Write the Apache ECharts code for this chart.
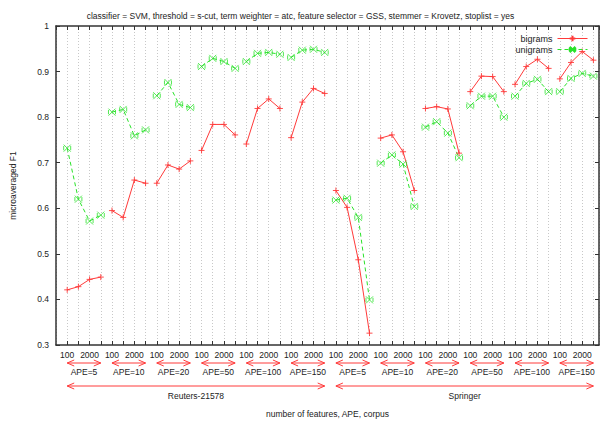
<!DOCTYPE html>
<html>
<head>
<meta charset="utf-8">
<script src="https://cdn.jsdelivr.net/npm/echarts@6/dist/echarts.min.js"></script>
<style>html,body{margin:0;padding:0;background:#fff;}#c{width:601px;height:423px;}</style>
</head>
<body>
<div id="c"></div>
<script>
// ---- data ----
const titleText = 'classifier = SVM, threshold = s-cut, term weighter = atc, feature selector = GSS, stemmer = Krovetz, stoplist = yes';
const tickLabels = ['100', '', '2000', ''];            // labels for the 4 feature counts of each group
const apeLevels = ['APE=5', 'APE=10', 'APE=20', 'APE=50', 'APE=100', 'APE=150'];
const corpora = ['Reuters-21578', 'Springer'];
const yTicks = [0.3, 0.4, 0.5, 0.6, 0.7, 0.8, 0.9, 1];

const bigrams = [
  // Reuters-21578
  0.421, 0.428, 0.444, 0.449,
  0.595, 0.580, 0.662, 0.655,
  0.655, 0.695, 0.686, 0.704,
  0.727, 0.784, 0.784, 0.761,
  0.741, 0.819, 0.840, 0.819,
  0.755, 0.833, 0.863, 0.852,
  // Springer
  0.639, 0.602, 0.487, 0.326,
  0.754, 0.761, 0.724, 0.639,
  0.819, 0.823, 0.818, 0.721,
  0.856, 0.890, 0.889, 0.856,
  0.872, 0.911, 0.927, 0.907,
  0.884, 0.920, 0.944, 0.925
];
const unigrams = [
  // Reuters-21578
  0.732, 0.620, 0.572, 0.585,
  0.811, 0.817, 0.759, 0.772,
  0.847, 0.876, 0.828, 0.821,
  0.911, 0.929, 0.922, 0.907,
  0.922, 0.940, 0.942, 0.938,
  0.931, 0.947, 0.949, 0.942,
  // Springer
  0.618, 0.622, 0.580, 0.399,
  0.699, 0.717, 0.697, 0.604,
  0.778, 0.790, 0.765, 0.711,
  0.825, 0.846, 0.846, 0.800,
  0.846, 0.874, 0.883, 0.856,
  0.856, 0.885, 0.896, 0.890
];

// ---- build ----
function toSeriesData(vals) {
  const out = [];
  vals.forEach((v, i) => {
    out.push([i + 1, v]);
    if (i % 4 === 3 && i < vals.length - 1) out.push([i + 1.5, '-']);
  });
  return out;
}
const nPts = bigrams.length;
const spanLabels = [];
const spans = [];
for (let g = 0; g < nPts / 4; g++) {
  spans.push([4 * g + 1, 4 * g + 4, 0, spanLabels.length]);
  spanLabels.push(apeLevels[g % apeLevels.length]);
}
const perCorpus = nPts / corpora.length;
corpora.forEach((c, k) => {
  spans.push([k * perCorpus + 1, (k + 1) * perCorpus, 1, spanLabels.length]);
  spanLabels.push(c);
});

const RED = '#ff3a3a';
const GREEN = '#2ae22a';
const FONT = 'Liberation Sans';
const txt = '#222';

const chart = echarts.init(document.getElementById('c'), null, {renderer: 'svg'});
const xMin = 0, xMax = nPts + 0.5;
chart.setOption({
  animation: false,
  backgroundColor: '#fff',
  textStyle: {fontFamily: FONT},
  title: {
    text: titleText, left: 'center', top: 6,
    textStyle: {fontSize: 8.5, fontWeight: 'normal', color: txt, fontFamily: FONT}
  },
  legend: {
    orient: 'vertical', right: 8, top: 29, align: 'right',
    itemWidth: 30, itemHeight: 7, itemGap: 2,
    lineStyle: {width: 1},
    textStyle: {fontSize: 9, color: txt, fontFamily: FONT},
    data: ['bigrams', 'unigrams']
  },
  grid: {left: 51, right: 2, top: 26, bottom: 78, containLabel: false},
  xAxis: [{
    type: 'value', min: xMin, max: xMax, interval: 1,
    name: 'number of features, APE, corpus', nameLocation: 'middle', nameGap: 64,
    nameTextStyle: {fontSize: 8.5, color: txt, fontFamily: FONT},
    axisLine: {show: true, onZero: false, lineStyle: {color: '#333', width: 1.5}},
    axisTick: {show: true, inside: true, length: 4, lineStyle: {color: '#333'}},
    axisLabel: {
      fontSize: 8.5, color: txt, margin: 5, fontFamily: FONT, showMaxLabel: false, showMinLabel: false,
      formatter: v => (Number.isInteger(v) && v >= 1 && v <= nPts) ? tickLabels[(v - 1) % 4] : ''
    },
    splitLine: {show: true, lineStyle: {type: [1, 2], color: '#c8c8c8', width: 1}}
  }, {
    type: 'value', position: 'top', min: xMin, max: xMax, interval: 1,
    axisLine: {show: true, onZero: false, lineStyle: {color: '#333', width: 1.5}},
    axisTick: {show: true, inside: true, length: 4, lineStyle: {color: '#333'}},
    axisLabel: {show: false}, splitLine: {show: false}
  }],
  yAxis: [{
    type: 'value', min: 0.3, max: 1, interval: 0.1,
    name: 'microaveraged F1', nameLocation: 'middle', nameGap: 39,
    nameTextStyle: {fontSize: 8.5, color: txt, fontFamily: FONT},
    axisLine: {show: true, onZero: false, lineStyle: {color: '#333', width: 1.5}},
    axisTick: {show: true, inside: true, length: 4, lineStyle: {color: '#333'}},
    axisLabel: {fontSize: 8.5, color: txt, margin: 7, fontFamily: FONT,
      formatter: v => String(+v.toFixed(1))},
    splitLine: {show: false}
  }, {
    type: 'value', position: 'right', min: 0.3, max: 1, interval: 0.1,
    axisLine: {show: true, onZero: false, lineStyle: {color: '#333', width: 1.5}},
    axisTick: {show: true, inside: true, length: 4, lineStyle: {color: '#333'}},
    axisLabel: {show: false}, splitLine: {show: false}
  }],
  series: [{
    name: 'bigrams', type: 'line', data: toSeriesData(bigrams),
    connectNulls: false, showSymbol: true,
    symbol: 'path://M0,5L10,5M5,0L5,10', symbolSize: 6,
    lineStyle: {color: RED, width: 1},
    itemStyle: {color: RED, borderColor: RED, borderWidth: 0.9}
  }, {
    name: 'unigrams', type: 'line', data: toSeriesData(unigrams),
    connectNulls: false, showSymbol: true,
    symbol: 'path://M0,0L10,10M10,0L0,10M0,2L0,8M10,2L10,8', symbolSize: 7,
    lineStyle: {color: GREEN, width: 1, type: [4, 3]},
    itemStyle: {color: GREEN, borderColor: GREEN, borderWidth: 0.8}
  }, {
    type: 'custom', name: 'annot', silent: true, clip: false,
    data: spans, encode: {x: [0, 1]},
    renderItem: function (params, api) {
      const level = api.value(2);
      const a = api.coord([api.value(0), 0.3]);
      const b = api.coord([api.value(1), 0.3]);
      const y = a[1] + (level === 0 ? 18 : 41);
      const x1 = a[0], x2 = b[0];
      const hl = 7, hw = 3;
      const st = {stroke: RED, lineWidth: 1, fill: null};
      return {
        type: 'group',
        children: [
          {type: 'line', shape: {x1: x1, y1: y, x2: x2, y2: y}, style: st},
          {type: 'polyline', shape: {points: [[x1 + hl, y - hw], [x1, y], [x1 + hl, y + hw]]}, style: st},
          {type: 'polyline', shape: {points: [[x2 - hl, y - hw], [x2, y], [x2 - hl, y + hw]]}, style: st},
          {type: 'text', style: {
            text: spanLabels[api.value(3)], x: (x1 + x2) / 2, y: y + (level === 0 ? 4 : 5),
            align: 'center', verticalAlign: 'top', fontSize: 8.5, fontFamily: FONT, fill: txt
          }}
        ]
      };
    }
  }]
});
</script>
</body>
</html>
